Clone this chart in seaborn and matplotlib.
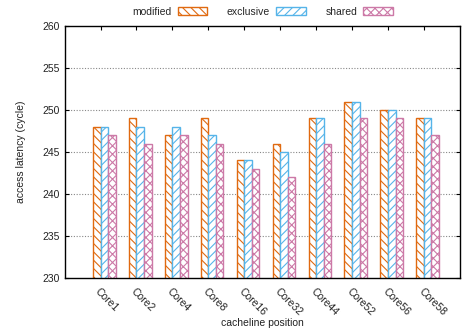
import matplotlib
matplotlib.use("Agg")
import matplotlib.pyplot as plt
from matplotlib.patches import Patch
import seaborn as sns
import pandas as pd
import numpy as np

categories = ["Core1", "Core2", "Core4", "Core8", "Core16", "Core32", "Core44", "Core52", "Core56", "Core58"]
modified = [248, 249, 247, 249, 244, 246, 249, 251, 250, 249]
exclusive = [248, 248, 248, 247, 244, 245, 249, 251, 250, 249]
shared = [247, 246, 247, 246, 243, 242, 246, 249, 249, 247]
series_names = ["modified", "exclusive", "shared"]
colors = ["#E06A10", "#56B4E9", "#CC79A7"]
hatches = ["\\\\\\\\", "////", "xxxx"]

rows = []
for name, vals in zip(series_names, [modified, exclusive, shared]):
    for c, v in zip(categories, vals):
        rows.append({"core": c, "type": name, "latency": v})
df = pd.DataFrame(rows)

sns.set_theme(style="white")
plt.rcParams["font.family"] = ["Liberation Sans", "DejaVu Sans"]
plt.rcParams["hatch.linewidth"] = 0.8

fig = plt.figure(figsize=(4.66, 3.29), dpi=100)
ax = fig.add_axes([65/466, 1-278/329, (460-65)/466, (278-26)/329])

sns.barplot(data=df, x="core", y="latency", hue="type", order=categories,
            hue_order=series_names, palette=colors, width=0.63, ax=ax,
            legend=False, errorbar=None)

n = len(categories)
for i, cont in enumerate(ax.containers):
    for p in cont:
        p.set_facecolor("white")
        p.set_edgecolor(colors[i])
        p.set_hatch(hatches[i])
        p.set_linewidth(1.0)

ax.set_ylim(230, 260)
ax.set_yticks([230, 235, 240, 245, 250, 255, 260])
ax.set_xlim(-1.095, 9.9)
ax.set_xticks(np.arange(n) - 0.105)
ax.set_xticklabels(categories, rotation=-45, ha="left", va="top", rotation_mode="anchor")
for y in [235, 240, 245, 250, 255]:
    ax.axhline(y, color="#888888", linestyle=(0, (1, 1.5)), linewidth=0.8, zorder=0)

for s in ax.spines.values():
    s.set_color("black")
    s.set_linewidth(1.0)
ax.tick_params(axis="both", direction="in", length=3, width=0.8, color="black",
               labelsize=7.5, labelcolor="#222222", top=True, right=True, bottom=True, left=True)
ax.tick_params(axis="x", pad=6)
ax.set_xlabel("cacheline position", fontsize=7.5, color="#222222", labelpad=0)
ax.set_ylabel("access latency (cycle)", fontsize=7.5, color="#222222", labelpad=12)

handles = [Patch(facecolor="white", edgecolor=c, hatch=h, linewidth=1.0) for c, h in zip(colors, hatches)]
ax.legend(handles, series_names, ncol=3, loc="lower center", bbox_to_anchor=(0.5, 1.0),
          frameon=False, markerfirst=False, fontsize=7.5, handlelength=2.8, handleheight=0.8,
          columnspacing=1.9, handletextpad=0.6, borderaxespad=0.5)

fig.savefig("out.png", dpi=100)
